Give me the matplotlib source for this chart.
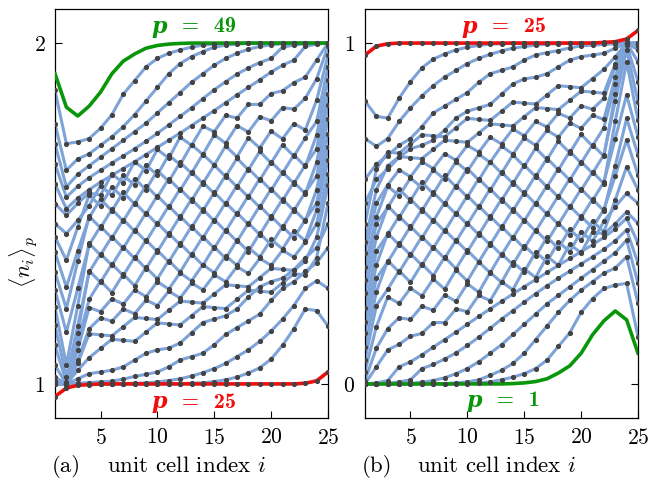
import numpy as np
import matplotlib
matplotlib.use("Agg")
import matplotlib.pyplot as plt

plt.rcParams['font.family'] = 'serif'
plt.rcParams['font.serif'] = ['cmr10', 'DejaVu Serif']
plt.rcParams['mathtext.fontset'] = 'cm'
plt.rcParams['axes.formatter.use_mathtext'] = True

cells = np.arange(1, 26)

# panel (b): <n_i>_p for p = 1 .. 25, one list per p, unit cells 1..25
b_rows = [
    [0, 0, 0, 0, 0, 0, 0, 0, 0, 0, 0, 0, 0, .001, .003, .007, .015, .032, .053, .09, .144, .185, .214, .188, .09],
    [0, 0, 0, 0, 0, 0, 0, 0, 0, .001, .003, .006, .012, .02, .03, .045, .07, .11, .15, .21, .25, .28, .29, .295, .139],
    [0, 0, 0, 0, 0, 0, 0, .001, .003, .006, .012, .025, .04, .06, .09, .13, .17, .21, .245, .275, .30, .325, .34, .373, .237],
    [0, 0, 0, 0, .002, .005, .01, .018, .03, .045, .065, .09, .115, .145, .175, .205, .235, .26, .285, .31, .335, .36, .385, .422, .295],
    [0, 0, .002, .006, .012, .045, .057, .073, .091, .113, .137, .163, .19, .215, .24, .265, .288, .31, .331, .352, .373, .395, .42, .452, .354],
    [0, .003, .01, .05, .065, .085, .108, .13, .152, .175, .198, .22, .242, .264, .285, .306, .327, .348, .368, .388, .408, .43, .455, .486, .413],
    [0, .05, .10, .116, .14, .148, .18, .18, .22, .212, .26, .244, .30, .276, .338, .312, .374, .348, .41, .384, .446, .44, .47, .505, .471],
    [.01, .105, .162, .194, .189, .228, .216, .261, .242, .294, .269, .327, .298, .357, .328, .387, .358, .417, .388, .447, .418, .477, .52, .559, .53],
    [.036, .168, .255, .236, .281, .258, .308, .278, .334, .302, .358, .326, .382, .35, .406, .374, .43, .398, .454, .422, .478, .446, .54, .637, .569],
    [.07, .23, .278, .332, .298, .352, .318, .372, .338, .392, .358, .412, .378, .432, .398, .452, .418, .472, .438, .492, .458, .512, .61, .716, .613],
    [.109, .27, .362, .328, .382, .348, .402, .368, .422, .388, .442, .408, .462, .428, .482, .448, .502, .468, .522, .488, .542, .508, .64, .779, .672],
    [.149, .31, .358, .412, .378, .432, .398, .452, .418, .472, .438, .492, .458, .512, .478, .532, .498, .552, .518, .572, .538, .592, .72, .848, .725],
    [.183, .35, .442, .408, .462, .428, .482, .448, .502, .468, .522, .488, .542, .508, .562, .528, .582, .548, .602, .568, .622, .588, .77, .945, .774],
    [.222, .39, .438, .492, .458, .512, .478, .532, .498, .552, .518, .572, .538, .592, .558, .612, .578, .632, .598, .652, .618, .672, .83, .98, .828],
    [.266, .43, .522, .488, .542, .508, .562, .528, .582, .548, .602, .568, .622, .588, .642, .608, .662, .628, .682, .648, .702, .668, .85, .995, .887],
    [.305, .47, .518, .572, .538, .592, .558, .612, .578, .632, .598, .652, .618, .672, .638, .692, .658, .712, .678, .732, .698, .752, .88, 1.0, .945],
    [.344, .49, .58, .552, .604, .576, .628, .60, .652, .624, .674, .65, .698, .674, .722, .70, .744, .724, .766, .75, .788, .776, .90, 1.0, .98],
    [.384, .53, .584, .628, .608, .652, .632, .676, .656, .70, .68, .724, .704, .748, .728, .77, .754, .794, .78, .816, .806, .838, .93, 1.0, .99],
    [.417, .57, .64, .667, .664, .661, .688, .715, .712, .709, .736, .763, .76, .757, .784, .811, .808, .805, .832, .859, .856, .853, .94, 1.0, .995],
    [.47, .63, .68, .677, .704, .731, .728, .725, .752, .779, .776, .773, .80, .827, .824, .821, .848, .875, .872, .869, .896, .923, .96, 1.0, 1.0],
    [.53, .60, .63, .665, .69, .70, .715, .745, .78, .80, .81, .82, .85, .88, .895, .90, .91, .93, .95, .96, .965, .97, .985, 1.0, 1.0],
    [.60, .645, .67, .70, .72, .755, .795, .815, .835, .855, .885, .91, .92, .93, .95, .965, .972, .978, .986, .992, .994, .996, .998, 1.0, 1.0],
    [.72, .697, .72, .77, .81, .845, .875, .90, .92, .94, .955, .967, .977, .985, .99, .994, .997, .998, .999, 1, 1, 1, 1, 1.0, 1.0],
    [.83, .785, .78, .838, .887, .927, .953, .968, .98, .988, .993, .997, .998, .999, 1, 1, 1, 1, 1, 1, 1, 1, 1, 1.0, 1.0],
    [.965, .991, .998, 1, 1, 1, 1, 1, 1, 1, 1, 1, 1, 1, 1, 1, 1, 1, 1, 1, 1, 1.002, 1.004, 1.012, 1.037],
]
p_b = list(range(1, 26))
p_a = list(range(25, 50))
# panel (a), p = 25 .. 49: particle-hole partner of panel (b)  (n_i(p) = 2 - n_{26-i}(50-p))
a_rows = [[2 - v for v in b_rows[49 - p][::-1]] for p in p_a]

blue = '#7ea3d8'
dotc = '#434343'
red = '#f20d0d'
green = '#0a960a'

fig = plt.figure(figsize=(6.48, 4.83), dpi=100)
axa = fig.add_axes([55/648, 65/483, 273/648, 409/483])
axb = fig.add_axes([365/648, 65/483, 273/648, 409/483])


def draw(ax, rows, ps, hi_p, lo_p, hi_col, lo_col, nodot_p):
    for p, ln in zip(ps, rows):
        if p in (lo_p, hi_p):
            continue
        ax.plot(cells, ln, color=blue, lw=2.2, zorder=2, solid_capstyle='round')
    for p, ln in zip(ps, rows):
        if p == hi_p:
            ax.plot(cells, ln, color=hi_col, lw=2.6, zorder=3)
        if p == lo_p:
            ax.plot(cells, ln, color=lo_col, lw=2.6, zorder=3)
    for p, ln in zip(ps, rows):
        if p == nodot_p:
            continue
        ax.plot(cells, ln, ls='none', marker='o', ms=2.7, color=dotc, zorder=4)


draw(axa, a_rows, p_a, 49, 25, green, red, 49)
draw(axb, b_rows, p_b, 25, 1, red, green, 1)

for ax in (axa, axb):
    ax.set_xlim(1, 25)
    ax.set_xticks([5, 10, 15, 20, 25])
    ax.tick_params(direction='in', length=5, width=0.8, labelsize=15.5, top=False, right=True, pad=7)
    for s in ax.spines.values():
        s.set_linewidth(0.9)

axa.set_ylim(0.9, 2.1)
axa.set_yticks([1, 2])
axb.set_ylim(-0.1, 1.1)
axb.set_yticks([0, 1])

fig.text(24/648, 1 - 262/483, r'$\langle n_i\rangle_p$', fontsize=16, rotation=90,
         ha='center', va='center')

fig.text(52/648, 1 - 472/483, '(a)', fontsize=16.5, va='baseline')
fig.text(107/648, 1 - 472/483, r'unit cell index $i$', fontsize=16.5, va='baseline')
fig.text(362/648, 1 - 472/483, '(b)', fontsize=16.5, va='baseline')
fig.text(417/648, 1 - 472/483, r'unit cell index $i$', fontsize=16.5, va='baseline')


def plabel(ax, x, y, num, col):
    ax.text(x, y, 'p', color=col, fontsize=16, fontweight='bold', fontstyle='italic',
            family='DejaVu Serif', ha='right', va='center', transform=ax.transAxes)
    ax.text(x, y, '  =  ' + num, color=col, fontsize=16, fontweight='bold',
            family='cmb10', ha='left', va='center', transform=ax.transAxes)


plabel(axa, 0.41, 0.956, '49', green)
plabel(axa, 0.41, 0.039, '25', red)
plabel(axb, 0.41, 0.956, '25', red)
plabel(axb, 0.43, 0.042, '1', green)

fig.savefig('out.png', dpi=100)
